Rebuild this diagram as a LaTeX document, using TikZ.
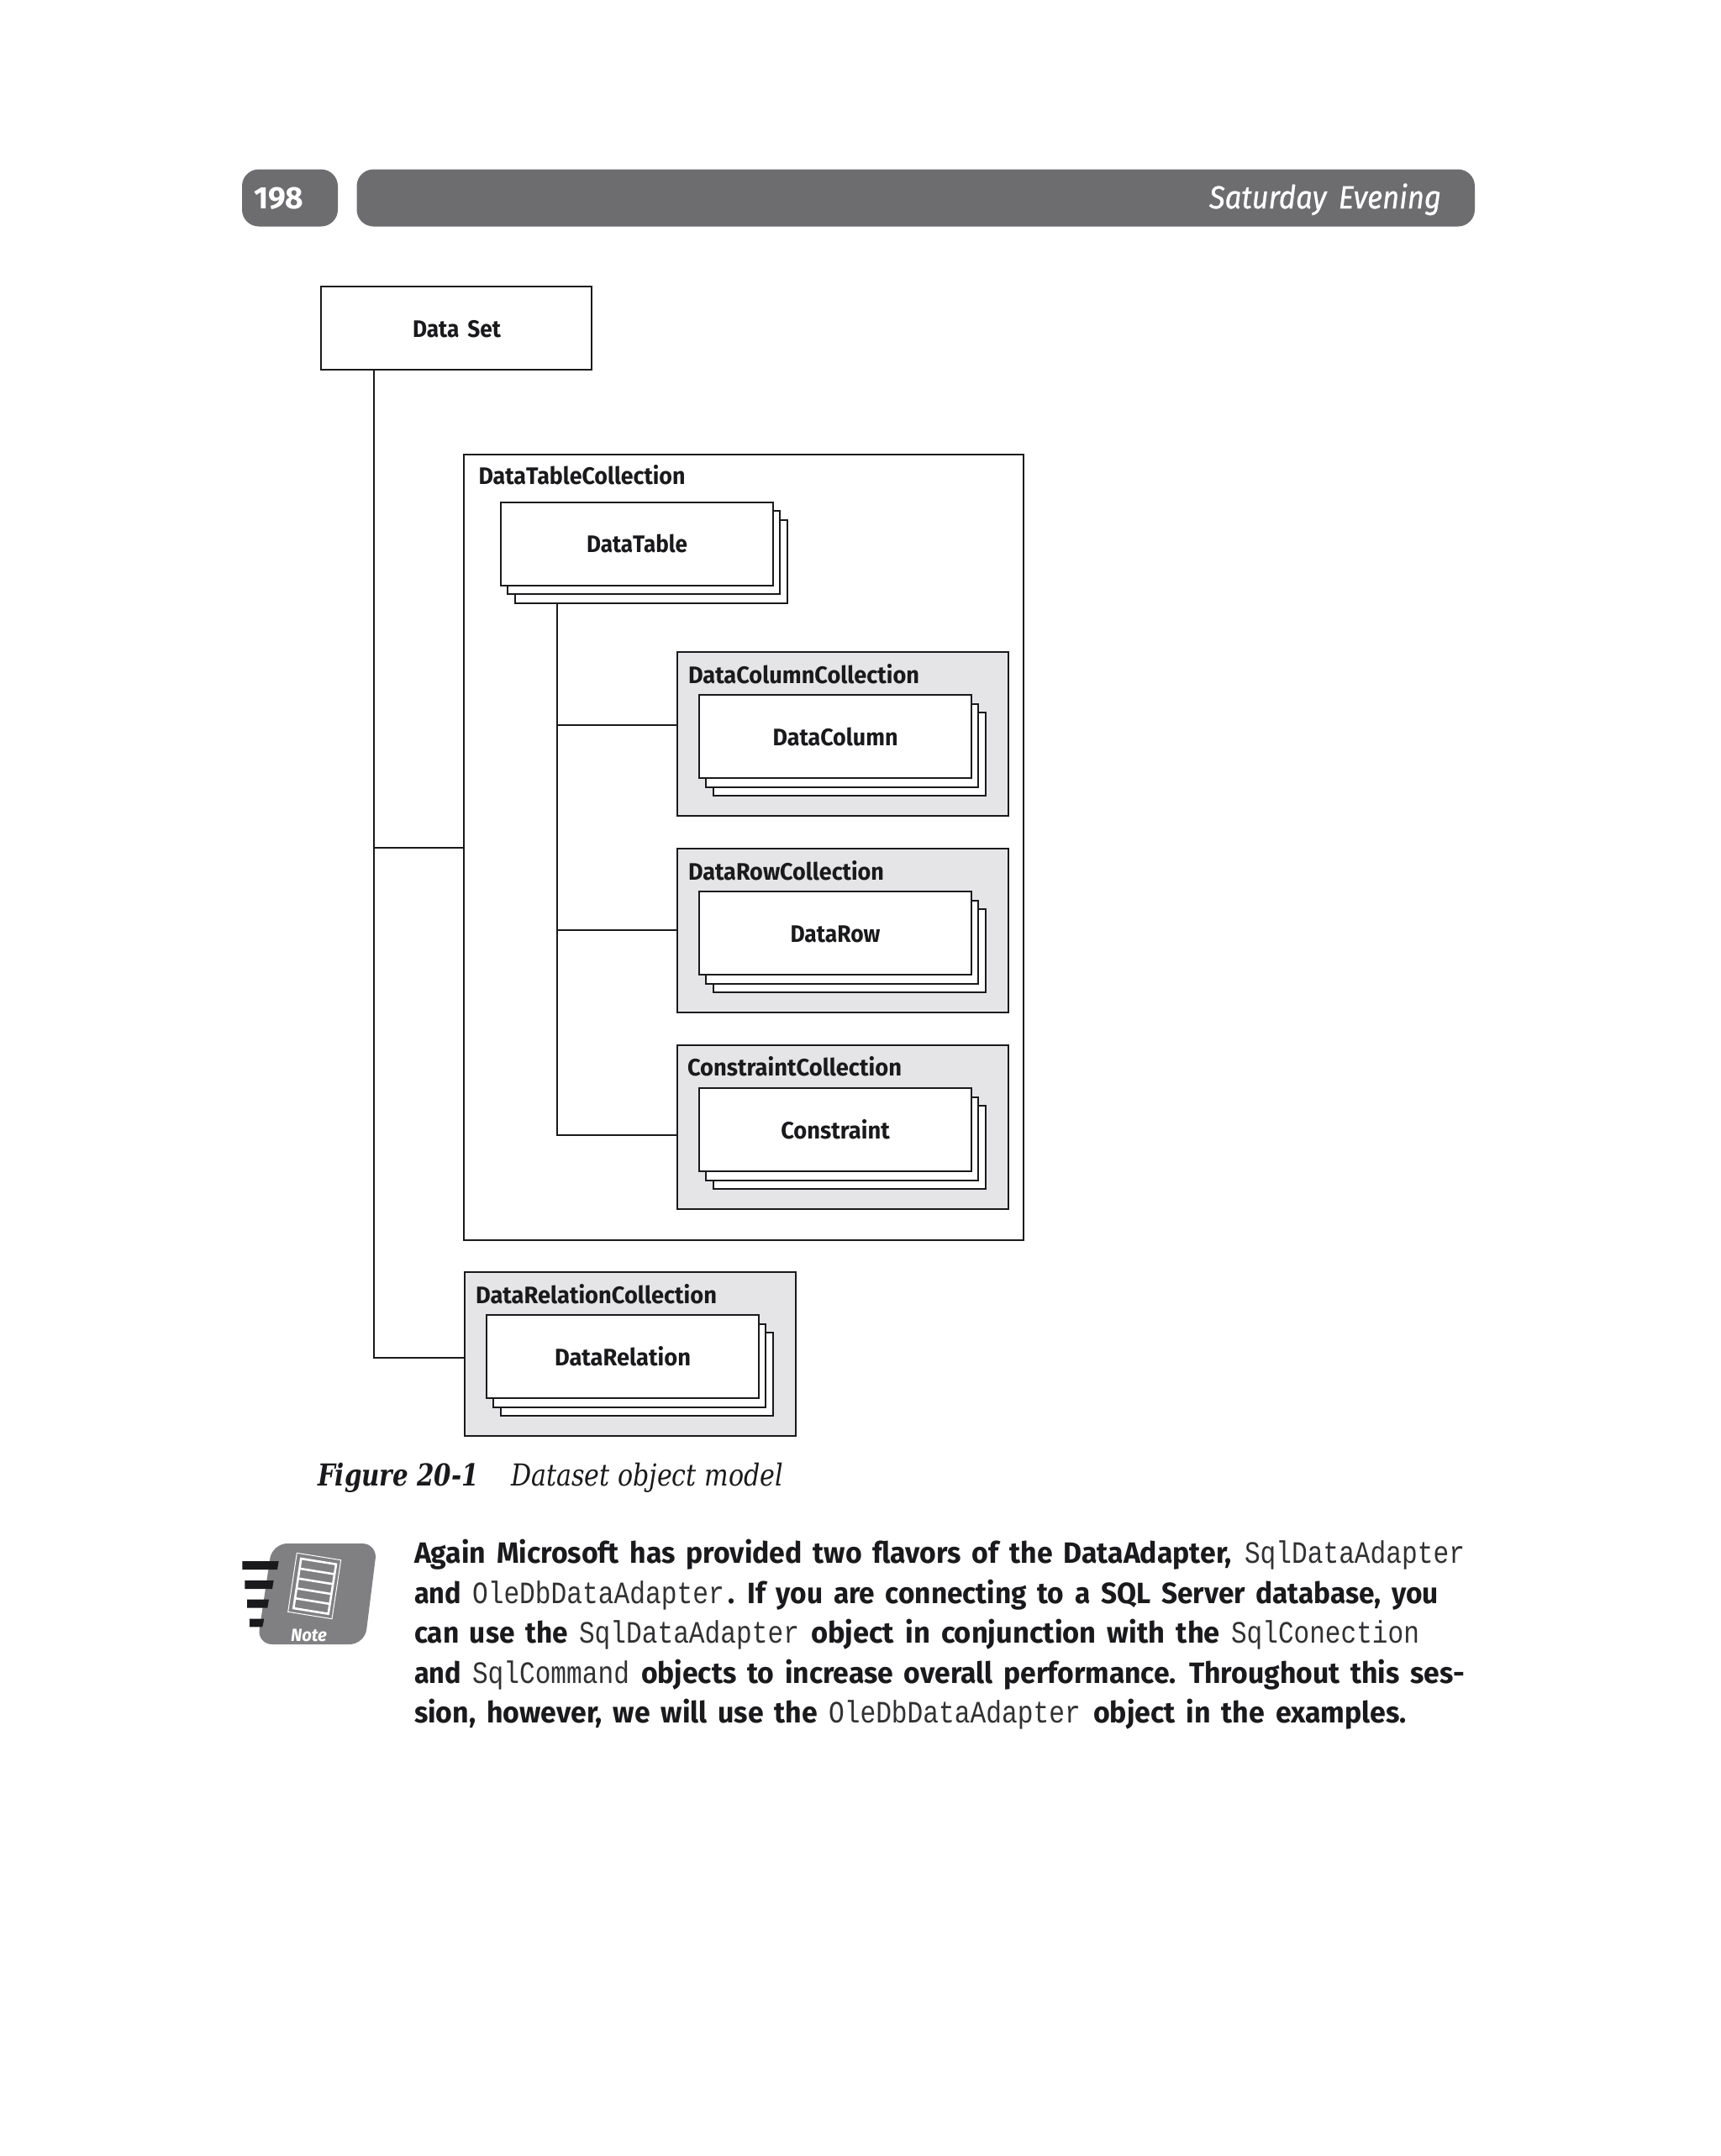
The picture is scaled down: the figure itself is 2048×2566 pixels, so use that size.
\documentclass[tikz,border=0pt]{standalone}
\usepackage{fontspec}
\setmainfont[WordSpace=1.6]{Fira Sans}
\newfontfamily\monof{Liberation Mono}
\newfontfamily\serf{DejaVu Serif}
\usetikzlibrary{calc}
\definecolor{hdr}{HTML}{6D6D70}
\definecolor{notegray}{HTML}{808082}
\definecolor{collgray}{HTML}{E5E5E7}
\definecolor{ink}{HTML}{1A1A1C}
\tikzset{
  card/.style={draw=ink,fill=white,line width=1pt,inner sep=0pt,outer sep=0pt,minimum width=162pt,minimum height=49.5pt},
  coll/.style={draw=ink,fill=collgray,line width=1pt,inner sep=0pt,outer sep=0pt,minimum width=197pt,minimum height=97.5pt},
  wire/.style={draw=ink,line width=1pt},
  txt/.style={inner sep=0pt,outer sep=0pt,text=ink},
  lab/.style={txt,font=\bfseries\fontsize{14.2}{16}\selectfont},
  bodyb/.style={txt,font=\bfseries\fontsize{17.5}{20}\selectfont},
  bodym/.style={txt,text=ink!90,font=\monof\fontsize{18.5}{20}\selectfont}
}
% name, x, baseline y, width (px), text, style, anchor
\newcommand{\fitrun}[7]{\node[#6,anchor=#7] (#1) at (#2,#3) {\resizebox{\dimexpr#4pt/2\relax}{\height}{#5}};}
\newcommand{\stackcard}[5]{%
  \node[card] (#1back) at (#2+16.8,#3+21) {};
  \node[card] (#1mid) at (#2+8.4,#3+10.5) {};
  \node[card] (#1) at (#2,#3) {};
  \fitrun{#1t}{#2}{#3+10.5}{#4}{#5}{lab}{base}}
\begin{document}
\begin{tikzpicture}[x=0.5pt,y=-0.5pt]
\useasboundingbox (0,0) rectangle (2048,2566);
\fill[white] (0,0) rectangle (2048,2566);
% header
\fill[hdr,rounded corners=10pt] (288,201.5) rectangle (402,269.5);
\fill[hdr,rounded corners=10pt] (424.5,201.5) rectangle (1755,269.5);
\fitrun{pageno}{302}{248}{59.5}{198}{txt,text=white,font=\bfseries\fontsize{18.5}{20}\selectfont}{base west}
\fitrun{chapter}{1439}{248}{276}{\addfontfeature{FakeBold=0.8}Saturday Evening}{txt,text=white,font=\itshape\fontsize{19}{22}\selectfont}{base west}
% diagram
\node[card,minimum width=161pt] (ds) at (543,390) {};
\fitrun{dst}{543.5}{401}{105}{Data Set}{lab}{base}
\node[draw=ink,fill=white,line width=1pt,inner sep=0pt,outer sep=0pt,minimum width=333pt,minimum height=467.5pt] (tcol) at (885,1008.5) {};
\fitrun{tcoll}{569.5}{576}{246}{DataTableCollection}{lab}{base west}
\stackcard{dt}{758}{647}{120}{DataTable}
\node[coll] (ccol) at (1003,873) {};
\fitrun{ccoll}{819}{813}{275}{DataColumnCollection}{lab}{base west}
\stackcard{dc}{994}{876.5}{149}{DataColumn}
\node[coll] (rcol) at (1003,1107) {};
\fitrun{rcoll}{819}{1047}{233}{DataRowCollection}{lab}{base west}
\stackcard{dr}{994}{1110.5}{107}{DataRow}
\node[coll] (kcol) at (1003,1341) {};
\fitrun{kcoll}{818}{1280}{255}{ConstraintCollection}{lab}{base west}
\stackcard{cn}{994}{1344.5}{129.5}{Constraint}
\node[coll] (lcol) at (749.5,1611) {};
\fitrun{lcoll}{566}{1551}{287}{DataRelationCollection}{lab}{base west}
\stackcard{rl}{741}{1614.5}{162}{DataRelation}
% connectors
\coordinate (trunk) at ([xshift=31.25pt]ds.south west);
\coordinate (branch) at ([xshift=25.3pt]dtback.south west);
\draw[wire] (trunk) |- (tcol.west);
\draw[wire] (trunk) |- ([yshift=-2.5pt]lcol.west);
\draw[wire] (branch) |- ([yshift=5pt]ccol.west);
\draw[wire] (branch) |- (rcol.west);
\draw[wire] (branch) |- ([yshift=-5pt]kcol.west);
% caption
\fitrun{figa}{378}{1768}{192}{Figure 20-1}{txt,font=\serf\bfseries\itshape\fontsize{18}{20}\selectfont}{base west}
\fitrun{figb}{608}{1768}{324}{Dataset object model}{txt,font=\serf\itshape\fontsize{18}{20}\selectfont}{base west}
% note icon
\fill[notegray,rounded corners=9pt] (324,1837) -- (449,1837) -- (434,1957) -- (306,1957) -- cycle;
\fill[ink] (288.3,1858) -- (331.7,1858) -- (330,1868) -- (288.3,1868) -- cycle;
\fill[ink] (291.3,1881) -- (325.7,1881) -- (324,1891) -- (291.3,1891) -- cycle;
\fill[ink] (294,1903.7) -- (320,1903.7) -- (318.3,1913.7) -- (294,1913.7) -- cycle;
\fill[ink] (297,1926.7) -- (314.3,1926.7) -- (312.3,1936.3) -- (297,1936.3) -- cycle;
\draw[white,line width=0.5pt] (353.3,1848.3) -- (405.7,1856.7) -- (395,1926.7) -- (342.7,1918.3) -- cycle;
\coordinate (pa) at (358.3,1855);
\coordinate (pb) at (400,1861.7);
\coordinate (pc) at (390.7,1920.7);
\coordinate (pd) at (349.3,1914);
\draw[white,line width=1.3pt] (pa) -- (pb) -- (pc) -- (pd) -- cycle;
\foreach \t in {0.2,0.4,0.6,0.8}
  \draw[white,line width=1.3pt] ($(pa)!\t!(pd)$) -- ($(pb)!\t!(pc)$);
\fitrun{notel}{346}{1953}{43}{Note}{txt,text=white,font=\bfseries\itshape\fontsize{10.5}{12}\selectfont}{base west}
% body text
\fitrun{la}{493}{1860}{973}{Again Microsoft has provided two flavors of the DataAdapter,}{bodyb}{base west}
\fitrun{lb}{1481}{1860}{262}{SqlDataAdapter}{bodym}{base west}
\fitrun{lc}{493}{1908}{56}{and}{bodyb}{base west}
\fitrun{ld}{562}{1908}{300}{OleDbDataAdapter}{bodym}{base west}
\fitrun{le}{866}{1908}{846}{. If you are connecting to a SQL Server database, you}{bodyb}{base west}
\fitrun{lf}{493}{1955}{183}{can use the}{bodyb}{base west}
\fitrun{lg}{689}{1955}{262}{SqlDataAdapter}{bodym}{base west}
\fitrun{lh}{965}{1955}{487}{object in conjunction with the}{bodyb}{base west}
\fitrun{li}{1465}{1955}{224}{SqlConection}{bodym}{base west}
\fitrun{lj}{493}{2003}{56}{and}{bodyb}{base west}
\fitrun{lk}{562}{2003}{187}{SqlCommand}{bodym}{base west}
\fitrun{ll}{763}{2003}{980}{objects to increase overall performance. Throughout this ses-}{bodyb}{base west}
\fitrun{lm}{493}{2050}{480}{sion, however, we will use the}{bodyb}{base west}
\fitrun{ln}{986}{2050}{300}{OleDbDataAdapter}{bodym}{base west}
\fitrun{lo}{1301}{2050}{373}{object in the examples.}{bodyb}{base west}
\end{tikzpicture}
\end{document}
